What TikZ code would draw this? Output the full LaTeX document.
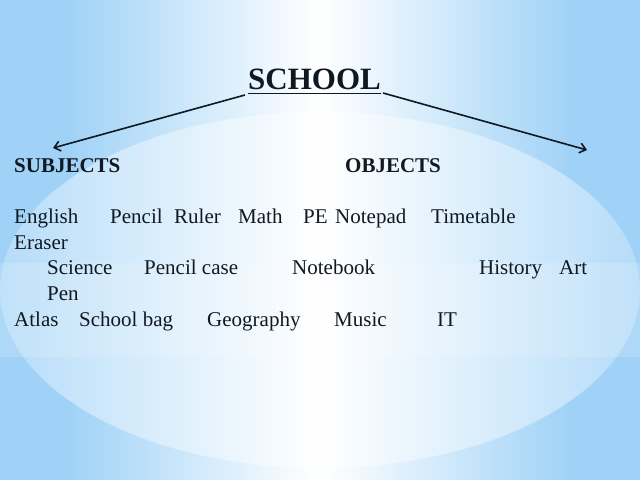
\documentclass[tikz,border=0pt]{standalone}
\usepackage{fontspec}
\setmainfont{Liberation Serif}
\usetikzlibrary{arrows.meta}
\definecolor{bgblue}{RGB}{160,210,247}
\definecolor{inkdark}{RGB}{16,24,34}
\begin{document}
\begin{tikzpicture}[x=1pt,y=1pt,
	word/.style={anchor=base west,inner sep=0pt,text=inkdark,font=\fontsize{21}{25}\selectfont},
	head/.style={word,font=\fontsize{21}{25}\selectfont\bfseries},
	arr/.style={-{Straight Barb[length=6pt,width=10pt]},line width=1.6pt,inkdark}]
% background
\useasboundingbox (0,0) rectangle (640,480);
\foreach \x in {0,4,...,636} {
	\pgfmathtruncatemacro\pct{min(100,abs(\x+2-320)/250*100)}
	\fill [bgblue!\pct!white] (\x,0) rectangle (\x+4.5,480);
}
\begin{scope}
\clip (320,190) ellipse [x radius=320,y radius=178];
\foreach \x in {0,4,...,636} {
	\pgfmathtruncatemacro\pct{abs(\x+2-320)/320*78}
	\fill [bgblue!\pct!white] (\x,0) rectangle (\x+4.5,480);
}
\end{scope}
\fill [white,opacity=0.15] (0,123) rectangle (640,217);
% title
\node (school) [word,font=\fontsize{31}{36}\selectfont\bfseries] at (248,390) {SCHOOL};
\draw [line width=1.6pt,inkdark] ([yshift=-3.5pt]school.base west) -- ([yshift=-3.5pt]school.base east);
\coordinate (subjtip) at (53,332);
\coordinate (objtip) at (587,330);
\draw [arr] ([xshift=-3pt,yshift=-5pt]school.base west) -- (subjtip);
\draw [arr] ([xshift=2pt,yshift=-3pt]school.base east) -- (objtip);
\node (subjects) [head] at (14,307) {SUBJECTS};
\node (objects) [head] at (345,307) {OBJECTS};
% words
\node (english) [word] at (14,256) {English};
\node (pencil) [word] at (110,256) {Pencil};
\node (ruler) [word] at (174,256) {Ruler};
\node (math) [word] at (238,256) {Math};
\node (pe) [word] at (303,256) {PE};
\node (notepad) [word] at (335,256) {Notepad};
\node (timetable) [word] at (431,256) {Timetable};
\node (eraser) [word] at (14,230.5) {Eraser};
\node (science) [word] at (47,205) {Science};
\node (pencilcase) [word] at (144,205) {Pencil case};
\node (notebook) [word] at (292,205) {Notebook};
\node (history) [word] at (479,205) {History};
\node (art) [word] at (559,205) {Art};
\node (pen) [word] at (47,179.5) {Pen};
\node (atlas) [word] at (14,154) {Atlas};
\node (schoolbag) [word] at (79,154) {School bag};
\node (geography) [word] at (207,154) {Geography};
\node (music) [word] at (334,154) {Music};
\node (it) [word] at (437,154) {IT};
\end{tikzpicture}
\end{document}
